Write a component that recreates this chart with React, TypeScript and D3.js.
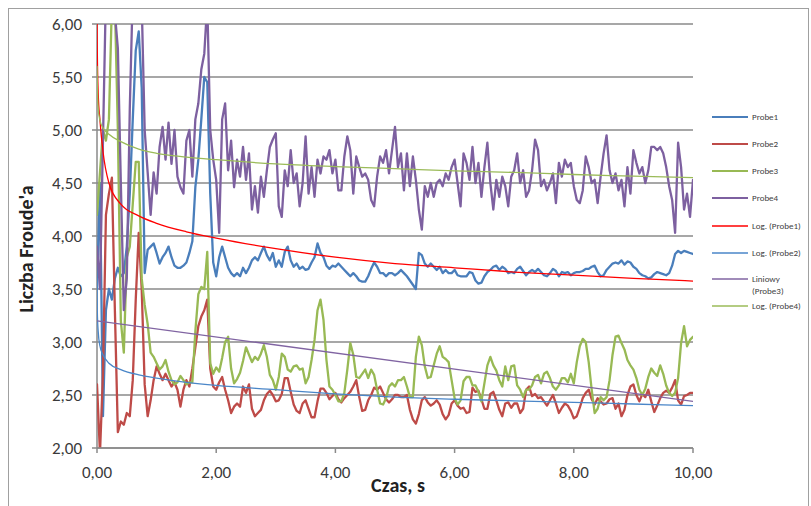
import React from 'react';
import * as d3 from 'd3';

// samples are 0.05 s apart, starting at t = 0
const STEP = 0.05;

const probe1 = [
  3.5, 4.5, 2.3, 3.3, 3.5, 3.4, 3.6, 3.7, 3.62, 3.65,
  3.9, 4.4, 5.1, 5.75, 5.93, 5.4, 3.65, 3.87, 3.9, 3.93,
  3.84, 3.74, 3.8, 3.84, 3.9, 3.8, 3.72, 3.7, 3.7, 3.72,
  3.75, 3.84, 3.95, 4.46, 4.72, 5.1, 5.5, 5.45, 4.4, 3.75,
  3.62, 3.8, 3.9, 3.8, 3.7, 3.65, 3.62, 3.65, 3.62, 3.7,
  3.65, 3.7,
  3.77, 3.80, 3.77, 3.84, 3.90, 3.82, 3.77, 3.84, 3.71, 3.77,
  3.71, 3.85, 3.90, 3.77, 3.71, 3.74, 3.69, 3.71, 3.68, 3.69,
  3.75, 3.80, 3.93, 3.84, 3.80, 3.72, 3.69, 3.72, 3.71, 3.74,
  3.71, 3.68, 3.65, 3.62, 3.65, 3.62, 3.58, 3.57, 3.57, 3.62,
  3.69, 3.75, 3.71, 3.65, 3.65, 3.62, 3.65, 3.65, 3.63, 3.65,
  3.68, 3.65, 3.62, 3.58, 3.54, 3.50, 3.84, 3.82, 3.74, 3.71,
  3.74, 3.71, 3.68, 3.71, 3.65, 3.68, 3.65, 3.65, 3.68, 3.63,
  3.62, 3.62, 3.62, 3.66,
  3.65, 3.58, 3.55, 3.56, 3.62, 3.66, 3.68, 3.71, 3.72, 3.68,
  3.71, 3.69, 3.65, 3.66, 3.65, 3.69, 3.71, 3.67, 3.63, 3.66,
  3.68, 3.66, 3.69, 3.66, 3.63, 3.62, 3.65, 3.69, 3.67, 3.62,
  3.66, 3.65, 3.66, 3.63, 3.65, 3.66, 3.66, 3.67, 3.69, 3.69,
  3.71, 3.72, 3.66, 3.62, 3.63, 3.68, 3.71, 3.74, 3.75, 3.74,
  3.77, 3.73, 3.76, 3.75, 3.71, 3.69, 3.65, 3.63, 3.62, 3.60,
  3.61, 3.64, 3.66, 3.65, 3.64, 3.63, 3.65, 3.72, 3.83, 3.86,
  3.84, 3.86, 3.85, 3.84, 3.83,
];

const probe2 = [
  2.6, 1.95, 2.7, 4.2, 4.4, 4.55, 3.3, 2.15, 2.25, 2.22,
  2.33, 2.3, 2.64, 3.4, 4.03, 3.5, 2.6, 2.3, 2.45, 2.64,
  2.77, 2.7, 2.64, 2.7, 2.64, 2.58, 2.62, 2.55, 2.39, 2.55,
  2.64, 2.58, 2.75, 2.95, 3.15, 3.24, 3.3, 3.4, 2.75, 2.58,
  2.55, 2.62, 2.67, 2.55, 2.45, 2.33, 2.39, 2.42, 2.39, 2.58,
  2.52, 2.6,
  2.37, 2.30, 2.33, 2.36, 2.45, 2.51, 2.54, 2.50, 2.44, 2.45,
  2.51, 2.66, 2.66, 2.53, 2.41, 2.35, 2.33, 2.42, 2.45, 2.37,
  2.29, 2.29, 2.44, 2.56, 2.56, 2.52, 2.46, 2.49, 2.52, 2.46,
  2.43, 2.47, 2.50, 2.53, 2.58, 2.64, 2.48, 2.35, 2.36, 2.45,
  2.50, 2.57, 2.55, 2.58, 2.52, 2.46, 2.43, 2.46, 2.50, 2.50,
  2.48, 2.48, 2.50, 2.36, 2.27, 2.23, 2.32, 2.45, 2.48, 2.43,
  2.40, 2.42, 2.45, 2.41, 2.32, 2.27, 2.31, 2.42, 2.45, 2.40,
  2.37, 2.38, 2.33, 2.34,
  2.57, 2.53, 2.54, 2.46, 2.37, 2.37, 2.51, 2.53, 2.45, 2.36,
  2.30, 2.42, 2.43, 2.38, 2.42, 2.42, 2.33, 2.37, 2.55, 2.58,
  2.49, 2.51, 2.47, 2.48, 2.44, 2.40, 2.45, 2.50, 2.42, 2.33,
  2.38, 2.42, 2.40, 2.35, 2.28, 2.30, 2.38, 2.47, 2.52, 2.55,
  2.46, 2.41, 2.47, 2.44, 2.41, 2.42, 2.46, 2.47, 2.37, 2.42,
  2.30, 2.36, 2.50, 2.58, 2.60, 2.50, 2.44, 2.51, 2.48, 2.55,
  2.44, 2.34, 2.40, 2.47, 2.52, 2.54, 2.52, 2.57, 2.64, 2.45,
  2.41, 2.49, 2.50, 2.52, 2.52,
];

const probe3 = [
  4.2, 4.6, 5.0, 4.9, 5.1, 6.2, 6.2, 5.0, 3.2, 2.9,
  3.8, 3.9, 4.3, 4.7, 4.7, 3.6, 3.35, 3.17, 2.9, 2.86,
  2.8, 2.74, 2.77, 2.83, 2.72, 2.64, 2.6, 2.62, 2.68, 2.64,
  2.6, 2.62, 2.62, 3.1, 3.45, 3.52, 3.5, 3.85, 2.8, 2.7,
  2.76, 2.72, 2.85, 3.0, 3.05, 2.75, 2.61, 2.65, 2.71, 2.82,
  2.95, 2.88,
  2.81, 2.86, 2.83, 2.89, 2.97, 2.86, 2.69, 2.64, 2.55, 2.67,
  2.89, 2.86, 2.74, 2.72, 2.77, 2.78, 2.74, 2.75, 2.61, 2.67,
  2.83, 3.02, 3.30, 3.40, 3.21, 2.83, 2.58, 2.55, 2.50, 2.44,
  2.44, 2.52, 2.74, 2.99, 2.88, 2.67, 2.66, 2.70, 2.74, 2.66,
  2.74, 2.69, 2.55, 2.42, 2.41, 2.47, 2.58, 2.61, 2.58, 2.64,
  2.64, 2.67, 2.58, 2.48, 2.48, 2.86, 3.05, 2.97, 2.77, 2.66,
  2.67, 2.78, 2.89, 2.96, 2.86, 2.84, 2.81, 2.64, 2.47, 2.41,
  2.45, 2.63, 2.67, 2.67,
  2.59, 2.59, 2.53, 2.44, 2.61, 2.78, 2.86, 2.78, 2.73, 2.64,
  2.58, 2.77, 2.64, 2.77, 2.78, 2.59, 2.55, 2.48, 2.55, 2.55,
  2.59, 2.67, 2.69, 2.61, 2.70, 2.72, 2.66, 2.58, 2.55, 2.59,
  2.66, 2.66, 2.62, 2.70, 2.61, 2.81, 2.96, 3.03, 3.00, 2.81,
  2.55, 2.33, 2.37, 2.48, 2.45, 2.48, 2.64, 2.88, 3.05, 3.06,
  2.99, 2.93, 2.83, 2.78, 2.74, 2.66, 2.55, 2.50, 2.56, 2.67,
  2.75, 2.71, 2.68, 2.78, 2.70, 2.59, 2.52, 2.49, 2.52, 2.66,
  2.99, 3.15, 2.96, 3.02, 3.05,
];

const probe4 = [
  3.9, 3.5, 4.9, 6.3, 6.3, 6.3, 6.1, 5.77, 4.5, 3.3,
  3.6, 5.2, 6.3, 6.3, 6.3, 6.2, 5.0, 4.6, 4.2, 4.6,
  4.4, 4.84, 5.03, 4.72, 5.07, 4.68, 5.0, 4.56, 4.46, 4.4,
  4.9, 5.0, 4.56, 5.1, 5.25, 5.57, 5.72, 6.2, 5.0, 4.72,
  4.53, 4.03, 5.1, 5.25, 4.62, 4.9, 4.46, 4.72, 4.56, 4.84,
  4.53, 4.78,
  4.25, 4.47, 4.22, 4.56, 4.37, 4.62, 4.84, 4.91, 4.97, 4.28,
  4.18, 4.62, 4.47, 4.81, 4.50, 4.59, 4.28, 4.50, 4.94, 4.40,
  4.65, 4.37, 4.72, 4.59, 4.75, 4.72, 4.81, 4.59, 4.72, 4.43,
  4.43, 4.75, 4.94, 4.81, 4.40, 4.75, 4.65, 4.56, 4.59, 4.53,
  4.34, 4.28, 4.56, 4.75, 4.69, 4.81, 4.59, 4.81, 5.03, 4.65,
  4.78, 4.43, 4.78, 4.47, 4.75, 4.53, 4.25, 4.06, 4.47, 4.37,
  4.50, 4.37, 4.50, 4.53, 4.47, 4.59, 4.53, 4.65, 4.72, 4.50,
  4.28, 4.78, 4.69, 4.53,
  4.84, 4.50, 4.69, 4.37, 4.65, 4.88, 4.50, 4.25, 4.53, 4.37,
  4.56, 4.47, 4.28, 4.56, 4.62, 4.78, 4.50, 4.62, 4.37, 4.43,
  4.62, 4.91, 4.81, 4.47, 4.53, 4.43, 4.50, 4.59, 4.31, 4.69,
  4.56, 4.72, 4.65, 4.69, 4.47, 4.34, 4.31, 4.43, 4.75, 4.65,
  4.50, 4.53, 4.31, 4.56, 4.78, 4.95, 4.62, 4.50, 4.59, 4.43,
  4.53, 4.28, 4.65, 4.40, 4.81, 4.69, 4.59, 4.65, 4.50, 4.62,
  4.84, 4.84, 4.81, 4.84, 4.78, 4.65, 4.47, 4.34, 4.03, 4.88,
  4.65, 4.25, 4.40, 4.18, 4.53,
];

// trendlines
const trendTime = [0.001, 0.005, 0.02, 0.05, 0.1, 0.2, 0.4, 0.7, 1, 1.5, 2, 3, 4, 5, 6, 7, 8, 9, 10];
const logProbe1 = [6.05, 5.75, 5.35, 5.09, 4.8, 4.5, 4.3, 4.19, 4.12, 4.04, 3.98, 3.88, 3.8, 3.74, 3.7, 3.66, 3.63, 3.6, 3.575];
const logProbe2 = [3.6, 3.3, 3.1, 2.96, 2.88, 2.8, 2.74, 2.69, 2.66, 2.62, 2.59, 2.55, 2.51, 2.48, 2.46, 2.445, 2.43, 2.415, 2.4];
const logProbe4 = [5.6, 5.45, 5.2, 5.09, 5.02, 4.96, 4.89, 4.82, 4.78, 4.745, 4.72, 4.68, 4.655, 4.635, 4.615, 4.6, 4.58, 4.565, 4.55];
const linTime = [0, 10];
const linProbe3 = [3.2, 2.44];

const yTicks = [2, 2.5, 3, 3.5, 4, 4.5, 5, 5.5, 6];
const xTicks = [0, 2, 4, 6, 8, 10];

const legendLabels = ['Probe1', 'Probe2', 'Probe3', 'Probe4', 'Log. (Probe1)', 'Log. (Probe2)', 'Liniowy|(Probe3)', 'Log. (Probe4)'];
const legendColors = ['#4A7EBB', '#BE4B48', '#98B954', '#7D60A0', '#FF0000', '#4A86C8', '#8064A2', '#9BBB59'];
const legendRows = [117, 144, 171, 198, 226, 253, 279, 306];

const FONT = 'Carlito, Calibri, Lato, "Liberation Sans", sans-serif';
const comma = (v: number) => d3.format('.2f')(v).replace('.', ',');

export default function App() {
  const x = d3.scaleLinear().domain([0, 10]).range([97, 693]);
  const y = d3.scaleLinear().domain([2, 6]).range([448, 24]);

  const sampled = d3.line<number>()
    .x((_, i) => x(i * STEP))
    .y((d) => y(d));

  const trend = (ts: number[], vs: number[]) =>
    d3.line<number>()
      .x((_, i) => x(ts[i]))
      .y((d) => y(d))
      .curve(d3.curveMonotoneX)(vs) || '';

  const [x0, x1] = x.range();
  const [yb, yt] = y.range();

  return (
    <svg width={811} height={506} style={{ position: 'absolute', left: 0, top: 0, background: '#fff' }} fontFamily={FONT}>
      <defs>
        <clipPath id="plot">
          <rect x={x0} y={yt} width={x1 - x0} height={yb - yt} />
        </clipPath>
      </defs>
      <rect x={8.5} y={8.5} width={800} height={520} fill="none" stroke="#a0a0a0" strokeWidth={1} />

      {yTicks.map((t) => (
        <g key={t}>
          <line x1={x0} x2={x1} y1={y(t)} y2={y(t)} stroke="#8a8a8a" strokeWidth={1.5} />
          <line x1={x0 - 5} x2={x0} y1={y(t)} y2={y(t)} stroke="#8a8a8a" strokeWidth={1.5} />
          <text x={82} y={y(t)} dy="0.35em" textAnchor="end" fontSize={17} fill="#3a3a3a">{comma(t)}</text>
        </g>
      ))}
      <line x1={x0} x2={x0} y1={yt} y2={yb} stroke="#8a8a8a" strokeWidth={1.5} />
      {xTicks.map((t) => (
        <g key={t}>
          <line x1={x(t)} x2={x(t)} y1={yb} y2={yb + 5} stroke="#8a8a8a" strokeWidth={1.5} />
          <text x={x(t)} y={478} textAnchor="middle" fontSize={17} fill="#3a3a3a">{comma(t)}</text>
        </g>
      ))}

      <g clipPath="url(#plot)" fill="none" strokeLinejoin="round" strokeLinecap="round">
        <path d={sampled(probe1) || ''} stroke={legendColors[0]} strokeWidth={2.3} />
        <path d={sampled(probe2) || ''} stroke={legendColors[1]} strokeWidth={2.3} />
        <path d={sampled(probe3) || ''} stroke={legendColors[2]} strokeWidth={2.3} />
        <path d={sampled(probe4) || ''} stroke={legendColors[3]} strokeWidth={2.3} />
        <path d={trend(trendTime, logProbe1)} stroke={legendColors[4]} strokeWidth={1.3} />
        <path d={trend(trendTime, logProbe2)} stroke={legendColors[5]} strokeWidth={1.3} />
        <path d={trend(linTime, linProbe3)} stroke={legendColors[6]} strokeWidth={1.3} />
        <path d={trend(trendTime, logProbe4)} stroke={legendColors[7]} strokeWidth={1.3} />
      </g>
      <line x1={x0} x2={x1} y1={yb} y2={yb} stroke="#8a8a8a" strokeWidth={1.5} />

      <text transform="translate(33,249) rotate(-90)" textAnchor="middle" fontSize={20} fontWeight="bold" fill="#222">Liczba Froude'a</text>
      <text x={398} y={492} textAnchor="middle" fontSize={20} fontWeight="bold" fill="#222">Czas, s</text>

      {legendLabels.map((label, i) => (
        <g key={label}>
          <line x1={712} x2={748} y1={legendRows[i]} y2={legendRows[i]} stroke={legendColors[i]} strokeWidth={i < 4 ? 2 : 1.5} />
          {label.split('|').map((part, j) => (
            <text key={part} x={752} y={legendRows[i] + j * 12} dy="0.35em" fontSize={9} fill="#404040">{part}</text>
          ))}
        </g>
      ))}
    </svg>
  );
}
